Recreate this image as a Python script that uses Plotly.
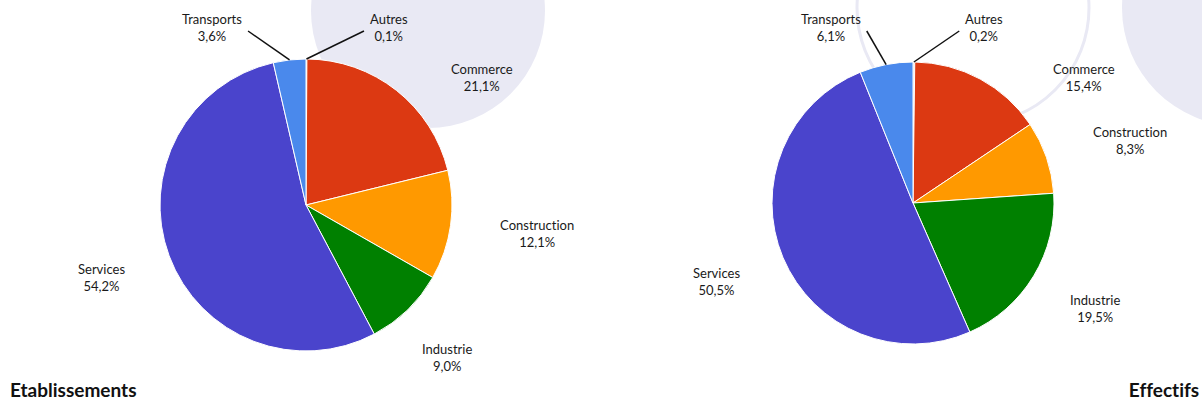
import math
import plotly.graph_objects as go

W, H = 1202, 403

# data
categories = ["Autres", "Commerce", "Construction", "Industrie", "Services", "Transports"]
etablissements = [0.1, 21.1, 12.1, 9.0, 54.2, 3.6]
effectifs = [0.2, 15.4, 8.3, 19.5, 50.5, 6.1]

colors = ["#c8c8d0", "#dc3912", "#ff9900", "#008000", "#4a44cc", "#4a89ec"]
lavender = "#e9e9f4"
font_family = "Lato, 'Open Sans', sans-serif"

# pie boxes (pixels): centre x, centre y, radius
pies = [
    {"name": "Etablissements", "values": etablissements, "cx": 306, "cy": 205, "r": 146},
    {"name": "Effectifs", "values": effectifs, "cx": 913, "cy": 203, "r": 141},
]

fig = go.Figure()

annotations = []
shapes = []

# decorative background circles
for (ccx, ccy, cr, filled) in [(428, 11, 117, True), (973, 8, 116, False), (1240, 8, 118, True)]:
    shapes.append(dict(
        type="circle", xref="x", yref="y", layer="below",
        x0=ccx - cr, x1=ccx + cr, y0=ccy - cr, y1=ccy + cr,
        fillcolor=lavender if filled else "rgba(0,0,0,0)",
        line=dict(color=lavender, width=0 if filled else 3),
    ))


def fmt(v):
    return f"{v:.1f}".replace(".", ",") + "%"


for p in pies:
    cx, cy, r = p["cx"], p["cy"], p["r"]
    vals = p["values"]
    fig.add_trace(go.Pie(
        labels=categories, values=vals, sort=False, direction="clockwise", rotation=0,
        marker=dict(colors=colors, line=dict(color="white", width=1)),
        textinfo="none", hoverinfo="label+percent", showlegend=False,
        domain=dict(x=[(cx - r) / W, (cx + r) / W], y=[1 - (cy + r) / H, 1 - (cy - r) / H]),
    ))

    # label placement from slice mid angles (highcharts-like: y from angle, x back on a circle)
    total = sum(vals)
    dist_x, pad, gap, top = 40, 8, 50, 27
    labels = []
    acc = 0
    for cat, v in zip(categories, vals):
        mid = (acc + v / 2) / total * 2 * math.pi
        acc += v
        s, c = math.sin(mid), math.cos(mid)
        dist_y = 57 - 13 * c
        labels.append(dict(cat=cat, v=v, s=s, c=c,
                           ex=cx + s * r, ey=cy - c * r,
                           y=cy - c * (r + dist_y), right=s >= 0))
    for side in (True, False):
        grp = sorted([l for l in labels if l["right"] == side], key=lambda l: l["y"])
        prev = None
        for l in grp:
            l["y"] = max(l["y"], top if prev is None else prev + gap)
            prev = l["y"]

    for l in labels:
        rr = r + dist_x
        dx = math.sqrt(max(rr ** 2 - (l["y"] - cy) ** 2, 0))
        xe = cx + (dx + pad if l["right"] else -dx - pad)
        annotations.append(dict(
            x=xe, y=l["y"], xref="x", yref="y", showarrow=False,
            xanchor="left" if l["right"] else "right", yanchor="middle", align="center",
            text=f"{l['cat']}<br>{fmt(l['v'])}",
            font=dict(family=font_family, size=13, color="#1a1a1a"),
        ))
        if l["v"] / total * 100 < 7:
            sx = xe + (-4 if l["right"] else 4)
            shapes.append(dict(type="line", xref="x", yref="y", x0=sx, y0=l["y"] + 4,
                               x1=l["ex"], y1=l["ey"], line=dict(color="#111", width=1.5)))

# chart titles
annotations.append(dict(x=0, y=0, xref="paper", yref="paper", xanchor="left", yanchor="bottom",
                        xshift=8, text="<b>Etablissements</b>", showarrow=False,
                        font=dict(family=font_family, size=19, color="#111")))
annotations.append(dict(x=1, y=0, xref="paper", yref="paper", xanchor="right", yanchor="bottom",
                        xshift=-1, text="<b>Effectifs</b>", showarrow=False,
                        font=dict(family=font_family, size=19, color="#111")))

fig.update_layout(
    width=W, height=H,
    margin=dict(l=0, r=0, t=0, b=0),
    paper_bgcolor="white", plot_bgcolor="white",
    xaxis=dict(range=[0, W], visible=False, domain=[0, 1], fixedrange=True),
    yaxis=dict(range=[H, 0], visible=False, domain=[0, 1], fixedrange=True),
    shapes=shapes, annotations=annotations,
    separators=", ",
    font=dict(family=font_family),
)

# page body without default margin, and no "ti" ligatures in labels
fig.write_html("out.html", config={"displayModeBar": False}, post_script=(
    "document.body.style.margin='0';document.body.style.overflow='hidden';"
    "var st=document.createElement('style');"
    "st.textContent='text{font-variant-ligatures:none;font-feature-settings:\"liga\" 0;}';"
    "document.head.appendChild(st);"
))
